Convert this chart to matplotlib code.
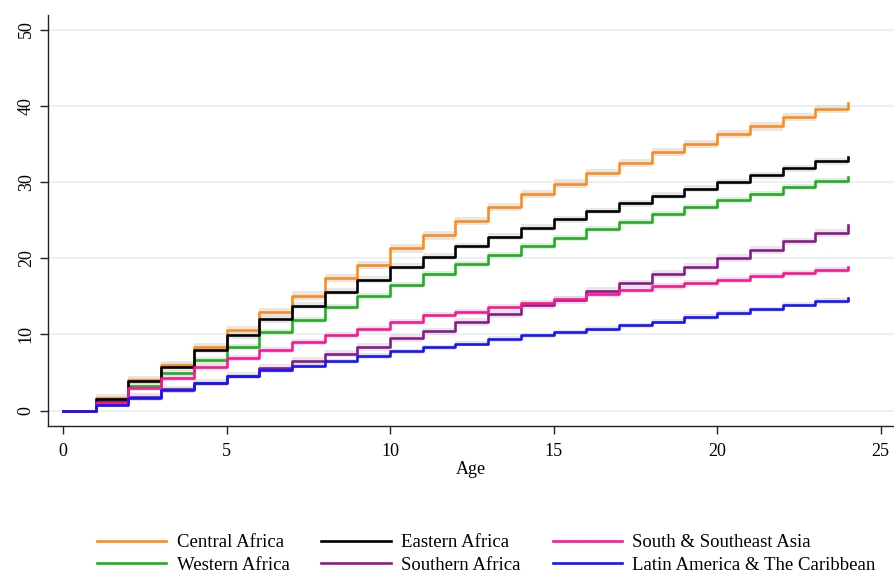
import numpy as np
import matplotlib
matplotlib.use('Agg')
import matplotlib.pyplot as plt

# Age at each step (cumulative incidence, %)
ages = list(range(0, 25))

central_africa = [0, 1.7, 4.0, 6.0, 8.3, 10.6, 12.9, 15.1, 17.4, 19.1, 21.3, 23.0, 24.9,
                  26.7, 28.4, 29.8, 31.2, 32.5, 33.9, 35.0, 36.3, 37.3, 38.5, 39.6, 40.4]
eastern_africa = [0, 1.5, 3.9, 5.8, 8.0, 9.9, 12.0, 13.8, 15.6, 17.2, 18.9, 20.2, 21.6,
                  22.8, 24.0, 25.1, 26.2, 27.2, 28.2, 29.1, 30.0, 30.9, 31.8, 32.7, 33.3]
western_africa = [0, 1.3, 3.2, 4.9, 6.7, 8.4, 10.3, 11.9, 13.6, 15.1, 16.5, 17.9, 19.2,
                  20.4, 21.6, 22.7, 23.8, 24.8, 25.8, 26.7, 27.6, 28.4, 29.3, 30.1, 30.7]
southern_africa = [0, 1.2, 1.8, 2.8, 3.7, 4.6, 5.6, 6.5, 7.5, 8.4, 9.5, 10.4, 11.6,
                   12.7, 13.9, 14.5, 15.7, 16.7, 17.9, 18.9, 20.0, 21.1, 22.2, 23.3, 24.3]
south_se_asia = [0, 1.0, 3.0, 4.3, 5.8, 6.9, 8.0, 9.0, 9.9, 10.7, 11.6, 12.5, 13.0,
                 13.6, 14.1, 14.7, 15.3, 15.8, 16.3, 16.8, 17.2, 17.7, 18.1, 18.5, 18.9]
latin_america = [0, 0.8, 1.7, 2.7, 3.6, 4.5, 5.3, 5.9, 6.5, 7.2, 7.8, 8.3, 8.8,
                 9.4, 9.9, 10.3, 10.7, 11.2, 11.7, 12.3, 12.8, 13.3, 13.9, 14.4, 14.8]

# rough half-width of the grey confidence band for each region
ci_central = 0.55
ci_eastern = 0.45
ci_western = 0.4
ci_southern = 0.5
ci_asia = 0.4
ci_latin = 0.35

series = [
    ('Central Africa', central_africa, ci_central, '#ff8c1a'),
    ('Western Africa', western_africa, ci_western, '#1fb01f'),
    ('Eastern Africa', eastern_africa, ci_eastern, '#000000'),
    ('Southern Africa', southern_africa, ci_southern, '#8b1a8b'),
    ('South & Southeast Asia', south_se_asia, ci_asia, '#ff1493'),
    ('Latin America & The Caribbean', latin_america, ci_latin, '#1414ff'),
]

plt.rcParams['font.family'] = ['Liberation Serif', 'DejaVu Serif']

fig = plt.figure(figsize=(8.94, 5.78), dpi=100)
ax = fig.add_axes([0.0537, 0.263, 0.946, 0.711])

x = np.array(ages)
for name, vals, ci, color in series:
    y = np.array(vals)
    ax.fill_between(x[1:], y[1:] - ci, y[1:] + ci, step='post', color='#d4d4d4',
                    alpha=0.55, lw=0, zorder=2)
for name, vals, ci, color in series:
    ax.step(x, vals, where='post', color=color, lw=1.9, label=name, zorder=3)

ax.set_xlim(-0.46, 25.4)
ax.set_ylim(-2, 51.9)
ax.set_xticks([0, 5, 10, 15, 20, 25])
ax.set_yticks([0, 10, 20, 30, 40, 50])
ax.yaxis.grid(True, color='#e6eff1', lw=1.2, zorder=0)
ax.set_axisbelow(True)
for s in ['top', 'right']:
    ax.spines[s].set_visible(False)
for s in ['left', 'bottom']:
    ax.spines[s].set_color('#222222')
    ax.spines[s].set_linewidth(1.0)
ax.tick_params(axis='both', length=6, width=1, color='#222222', labelsize=13)
ax.tick_params(axis='x', pad=6)
for lbl in ax.get_yticklabels():
    lbl.set_rotation(90)
    lbl.set_va('center')
ax.set_xlabel('Age', fontsize=13, labelpad=1)

fig.legend(loc='upper left', bbox_to_anchor=(97 / 894, 1 - 534 / 578), ncol=3,
           frameon=False, fontsize=13.5, borderpad=0, borderaxespad=0,
           handlelength=3.7, handletextpad=0.55, columnspacing=1.7,
           labelspacing=0.3)

fig.savefig('out.png', dpi=100)
